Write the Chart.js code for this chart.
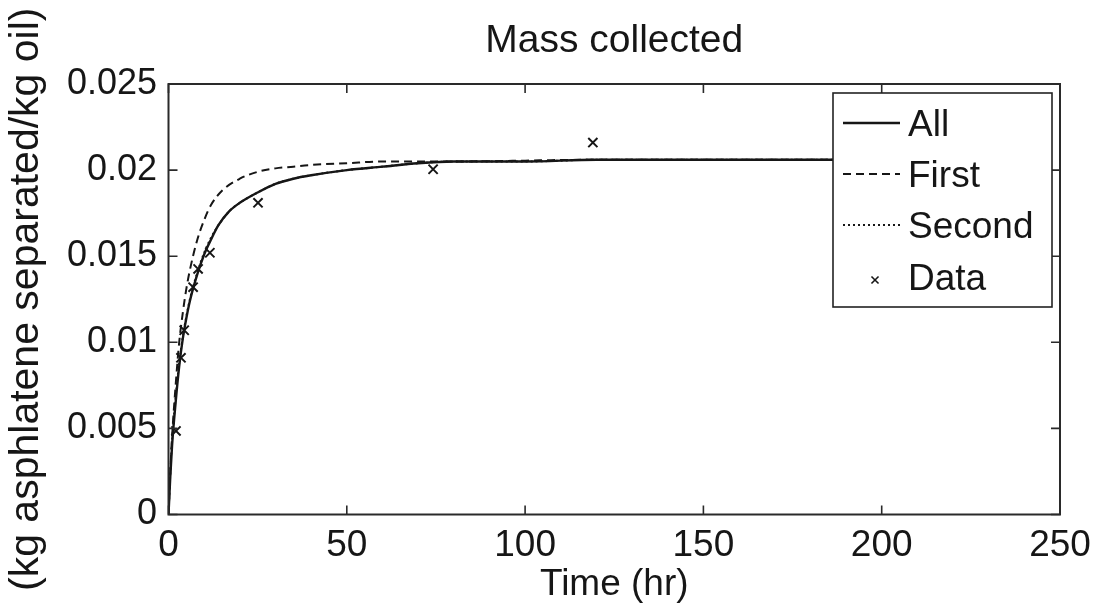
<!DOCTYPE html>
<html><head><meta charset="utf-8">
<script src="https://cdn.jsdelivr.net/npm/chart.js@4/dist/chart.umd.min.js"></script>
<style>html,body{margin:0;padding:0;background:#fff;overflow:hidden}#wrap{width:1097px;height:607px}</style>
</head><body><div id="wrap"><canvas id="c" width="1097" height="607"></canvas></div>
<script>
// ---- data ----
const chartTitle = 'Mass collected';
const xAxisTitle = 'Time (hr)';
const yAxisTitle = '(kg asphlatene separated/kg oil)';
const xTickLabels = ['0', '50', '100', '150', '200', '250'];
const yTickLabels = ['0', '0.005', '0.01', '0.015', '0.02', '0.025'];
const seriesNames = ['All', 'First', 'Second', 'Data'];

const timeAll = [0, 0.5, 1, 2, 3, 4, 5, 6, 8, 10, 12, 14, 17, 20, 25, 30, 35, 40, 50, 60, 70, 80, 100, 120, 160, 200, 240];
const massAll = [0, 0.0022, 0.0040, 0.0065, 0.0086, 0.0102, 0.0114, 0.0124, 0.0139, 0.0151, 0.0160, 0.0168, 0.0176, 0.0181, 0.0187, 0.0192, 0.0195, 0.0197, 0.0200, 0.0202, 0.0204, 0.0205, 0.0205, 0.0206, 0.0206, 0.0206, 0.0206];

const timeFirst = [0, 0.5, 1, 2, 3, 4, 5, 6, 8, 10, 12, 15, 20, 25, 30, 35, 40, 50, 60, 80, 120, 160, 200, 240];
const massFirst = [0, 0.0025, 0.0045, 0.0075, 0.0100, 0.0117, 0.0131, 0.0142, 0.0159, 0.0171, 0.0180, 0.0188, 0.0195, 0.0199, 0.0201, 0.0202, 0.0203, 0.0204, 0.0205, 0.0205, 0.0206, 0.0206, 0.0206, 0.0206];

const timeSecond = [0, 0.5, 1, 2, 3, 4, 5, 6, 8, 10, 12, 14, 17, 20, 25, 30, 35, 40, 50, 60, 70, 80, 100, 120, 160, 200, 240];
const massSecond = [0, 0.0024, 0.0043, 0.0068, 0.0088, 0.0103, 0.0115, 0.0125, 0.0140, 0.0152, 0.0161, 0.0168, 0.0176, 0.0181, 0.0187, 0.0192, 0.0195, 0.0197, 0.0200, 0.0202, 0.0204, 0.0205, 0.0205, 0.0206, 0.0206, 0.0206, 0.0206];

const timeData = [2.1, 3.5, 4.4, 6.9, 8.3, 11.6, 25.1, 74.2, 119];
const massData = [0.00485, 0.0091, 0.0107, 0.0132, 0.01426, 0.0152, 0.0181, 0.02005, 0.0216];

// ---- build ----
const toXY = (xs, ys) => xs.map((x, i) => ({x: x, y: ys[i]}));
const INK = '#161616';
const FONT = "'Liberation Sans', Arial, sans-serif";

const frameAndTicks = {
  id: 'frameAndTicks',
  afterDraw(chart) {
    const {ctx, chartArea: a, scales} = chart;
    const xs = scales.x, ys = scales.y;
    const L = 9;
    ctx.save();
    ctx.strokeStyle = '#2a2a2a';
    ctx.lineWidth = 1.6;
    ctx.beginPath();
    xs.ticks.forEach(t => {
      const px = xs.getPixelForValue(t.value);
      ctx.moveTo(px, a.bottom); ctx.lineTo(px, a.bottom - L);
      ctx.moveTo(px, a.top); ctx.lineTo(px, a.top + L);
    });
    ys.ticks.forEach(t => {
      const py = ys.getPixelForValue(t.value);
      ctx.moveTo(a.left, py); ctx.lineTo(a.left + L, py);
      ctx.moveTo(a.right, py); ctx.lineTo(a.right - L, py);
    });
    ctx.stroke();
    ctx.lineWidth = 2;
    ctx.strokeRect(a.left, a.top, a.right - a.left, a.bottom - a.top);

    // legend box (MATLAB style, inside the axes, north-east)
    const bx = 833, by = 93, bw = 219, bh = 214;
    ctx.fillStyle = '#fff';
    ctx.fillRect(bx, by, bw, bh);
    ctx.lineWidth = 1.6;
    ctx.strokeStyle = '#222';
    ctx.strokeRect(bx, by, bw, bh);
    const rows = [125, 176, 227, 279];
    ctx.font = '37px ' + FONT;
    ctx.textBaseline = 'middle';
    ctx.textAlign = 'left';
    chart.data.datasets.forEach((ds, i) => {
      const y = rows[i];
      ctx.strokeStyle = ds.borderColor;
      if (ds.showLine === false) {
        Chart.helpers.drawPoint(ctx, {pointStyle: ds.pointStyle, radius: 5, borderWidth: 1.8}, 875, y + 1);
      } else {
        ctx.save();
        ctx.lineWidth = ds.borderWidth;
        ctx.setLineDash(ds.borderDash || []);
        ctx.beginPath();
        ctx.moveTo(843, y - 2); ctx.lineTo(900, y - 2);
        ctx.stroke();
        ctx.restore();
      }
      ctx.fillStyle = INK;
      ctx.fillText(ds.label, 908, y + 1);
    });
    ctx.restore();
  }
};

new Chart(document.getElementById('c'), {
  type: 'scatter',
  data: {
    datasets: [
      {label: seriesNames[0], data: toXY(timeAll, massAll), showLine: true, borderColor: INK, backgroundColor: INK,
       borderWidth: 2.4, pointRadius: 0, cubicInterpolationMode: 'monotone'},
      {label: seriesNames[1], data: toXY(timeFirst, massFirst), showLine: true, borderColor: INK, backgroundColor: INK,
       borderWidth: 2, borderDash: [8, 5], pointRadius: 0, cubicInterpolationMode: 'monotone'},
      {label: seriesNames[2], data: toXY(timeSecond, massSecond), showLine: true, borderColor: INK, backgroundColor: INK,
       borderWidth: 2, borderDash: [2, 3], pointRadius: 0, cubicInterpolationMode: 'monotone'},
      {label: seriesNames[3], data: toXY(timeData, massData), showLine: false, borderColor: INK, backgroundColor: INK,
       pointStyle: 'crossRot', pointRadius: 6.5, borderWidth: 2}
    ]
  },
  options: {
    responsive: false,
    animation: false,
    layout: {padding: {left: 0, right: 37, top: 0, bottom: 0}},
    plugins: {legend: {display: false}, tooltip: {enabled: false}, title: {display: false}},
    scales: {
      x: {
        type: 'linear', position: 'bottom', min: 0, max: 250,
        grid: {display: false, drawTicks: false}, border: {display: false},
        ticks: {stepSize: 50, color: INK, padding: 9, font: {family: FONT, size: 37},
                callback: (v, i) => xTickLabels[i]},
        title: {display: true, text: xAxisTitle, color: INK, font: {family: FONT, size: 37}, padding: {top: 0, bottom: 0}},
        afterFit: s => { s.height = 92.5; s.paddingLeft = 0; s.paddingRight = 0; }
      },
      xTop: {
        type: 'linear', position: 'top', min: 0, max: 250,
        grid: {display: false, drawTicks: false}, border: {display: false},
        ticks: {display: false},
        title: {display: true, text: chartTitle, color: INK, font: {family: FONT, size: 39}, padding: {top: 18, bottom: 0}},
        afterFit: s => { s.height = 84; s.paddingLeft = 0; s.paddingRight = 0; }
      },
      y: {
        type: 'linear', position: 'left', min: 0, max: 0.025,
        grid: {display: false, drawTicks: false}, border: {display: false},
        ticks: {stepSize: 0.005, color: INK, padding: 11.5, font: {family: FONT, size: 36},
                callback: (v, i) => yTickLabels[i]},
        title: {display: true, text: yAxisTitle, color: INK, font: {family: FONT, size: 41}, padding: {top: 2, bottom: 0}},
        afterFit: s => { s.width = 168.5; s.paddingTop = 0; s.paddingBottom = 0; }
      }
    }
  },
  plugins: [frameAndTicks]
});
</script>
</body></html>
